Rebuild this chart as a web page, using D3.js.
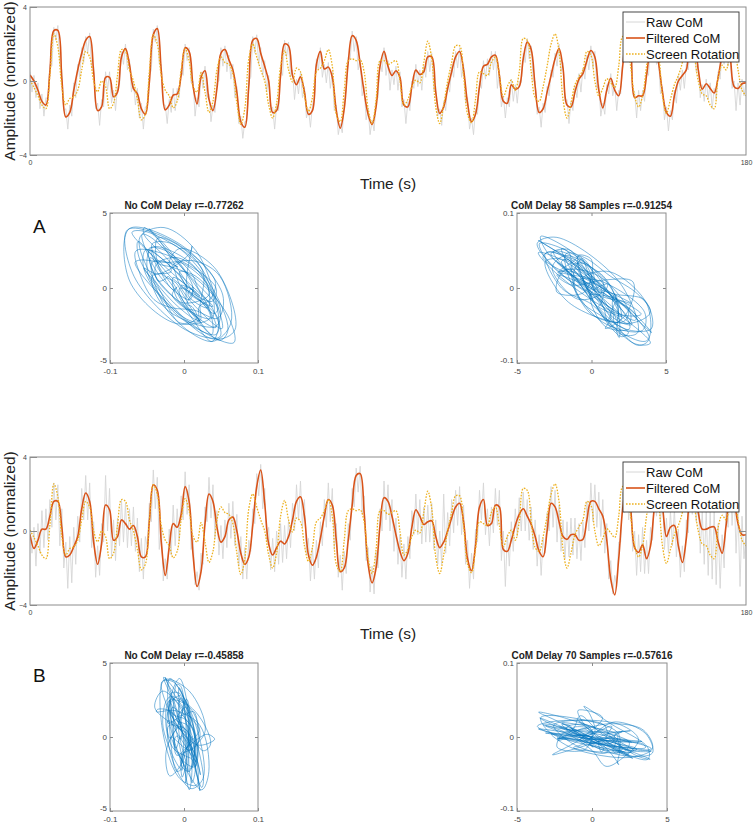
<!DOCTYPE html>
<html><head><meta charset="utf-8">
<script src="https://cdn.jsdelivr.net/npm/d3@7"></script>
<style>
body{margin:0;background:#fff}
svg{display:block;font-family:"Liberation Sans",Arial,Helvetica,sans-serif}
</style>
</head><body>
<svg id="chart" width="754" height="826"></svg>
<script>
// ---------------- DATA ----------------
const timeDomain = [0, 180];
const timeTickLabels = [0, 180];
const ampTickValues = [-4, 0, 4];
const seriesNames = ["Raw CoM", "Filtered CoM", "Screen Rotation"];
const FILTERED_STEP_S = 1;   // filtered / screen samples every 1 s
const RAW_STEP_S = 0.5;      // raw CoM samples every 0.5 s

// Screen rotation stimulus (same in both trials), normalized
const screenRotation = [
0.05,-0.35,-0.8,-1.3,-1.5,0.3,2.55,1.85,-0.3,-1.3,
-0.95,-0.85,-0.5,0.6,1.6,1.3,0.0,-0.58,0.0,-0.3,
-1.5,-1.2,0.3,1.7,1.6,0.6,0.0,-1.0,-2.1,-1.8,
0.5,2.5,2.0,0.3,-0.5,-0.8,-1.45,-1.1,0.6,1.75,
1.1,-0.3,-0.6,0.45,-0.6,-1.7,-1.1,0.6,1.3,1.0,
0.9,0.4,-1.2,-2.35,-1.5,1.2,2.0,1.3,0.6,0.0,
-1.3,-2.0,-1.2,0.8,1.65,0.6,-0.05,0.7,0.5,-0.8,
-1.65,-0.9,0.5,0.7,1.1,1.7,0.8,-1.8,-2.2,-0.5,
1.1,1.2,1.1,1.15,0.5,-1.5,-2.3,-1.0,1.1,1.1,
0.9,1.0,1.1,0.0,-1.3,-1.0,-0.3,0.05,-0.1,1.0,
2.15,1.2,-1.4,-2.3,-1.3,0.0,1.0,1.9,1.9,0.3,
-1.8,-2.25,-1.0,0.5,0.4,0.3,1.0,1.3,0.3,-0.85,
-0.3,0.05,-0.5,0.5,2.3,2.2,0.5,-0.9,-1.1,-0.3,
0.8,2.0,2.55,1.6,-1.0,-2.0,-1.2,-0.2,0.22,0.6,
1.6,1.4,0.0,-0.8,-0.4,0.12,-0.1,-0.35,0.8,2.4,
2.4,0.8,-0.8,-1.4,-0.8,0.8,2.2,2.6,1.6,-0.8,
-1.75,-1.0,-0.2,0.3,1.0,2.3,2.6,1.4,0.0,-0.7,
-0.8,-1.3,-1.5,0.2,0.85,0.6,1.5,1.8,0.6,-0.5,-0.8];

// Trial A filtered CoM, normalized
const filteredA = [
0.32,0.0,-0.5,-1.1,-1.3,0.5,2.72,2.74,0.14,-1.94,
-1.7,-0.5,0.6,1.5,2.2,2.4,0.5,-1.6,-1.4,0.2,
0.2,-0.85,-0.6,1.3,1.75,0.9,-0.4,-0.7,-1.5,-1.8,
-0.08,2.5,2.83,0.55,-1.56,-1.3,-0.76,-0.7,0.3,1.8,
1.6,-0.3,-1.24,0.2,0.55,-1.0,-1.6,-0.4,1.5,1.7,
1.15,0.6,-0.6,-2.2,-2.5,-0.3,2.2,2.3,1.5,0.8,
0.0,-1.7,-1.6,0.3,2.0,1.9,0.3,-0.2,0.23,-0.6,
-1.8,-1.6,0.9,1.6,0.65,0.75,0.2,-1.6,-2.55,-1.5,
1.0,2.45,2.2,0.9,-0.6,-1.8,-2.35,-1.4,0.8,1.6,
0.8,0.3,0.55,0.2,-1.3,-1.4,-0.3,0.59,0.35,0.5,
1.3,1.3,-0.6,-1.75,-1.4,-0.4,0.5,1.3,1.59,0.6,
-1.2,-2.2,-1.8,-0.3,0.8,0.9,1.3,1.4,0.3,-1.1,
-1.2,-0.2,-0.45,-0.3,1.2,2.1,1.7,-0.3,-1.7,-1.5,
-0.6,0.3,1.2,1.75,0.7,-1.3,-1.4,-0.6,0.1,0.4,
1.1,1.65,1.3,-0.5,-1.45,-0.5,0.15,-0.5,-0.8,0.8,
2.6,1.8,-0.9,-0.8,-0.8,0.3,1.8,2.2,1.0,-0.6,
-1.7,-1.9,-0.8,0.0,0.3,0.6,2.0,2.0,0.6,-0.45,
-0.15,-0.4,-0.65,0.2,1.4,2.0,1.3,-0.3,-0.4,-0.15,-0.1];

// Trial A raw CoM, normalized (0.5 s)
const rawA = [
0.5,-0.6,0.3,-0.9,-0.1,-1.5,-0.7,-1.9,-0.9,-1.0,0.9,0.8,2.9,2.2,3.0,0.9,0.6,-1.6,-1.5,-2.6,
-1.3,-1.9,-0.1,-0.9,0.9,0.2,1.8,1.0,2.4,1.5,2.6,0.7,0.8,-1.5,-1.2,-2.4,-1.0,-1.4,0.5,-0.5,
0.5,-1.2,-0.5,-1.6,-0.3,-0.2,1.6,0.9,2.0,0.6,1.2,-0.6,-0.1,-1.3,-0.4,-2.0,-1.2,-2.6,-1.4,-1.4,
0.3,0.6,2.8,2.1,3.0,0.9,0.9,-1.3,-1.3,-2.3,-1.0,-1.7,-0.4,-1.6,-0.4,-0.9,0.6,0.3,2.0,1.1,
1.8,-0.1,0.0,-1.9,-0.9,-1.4,0.5,-0.4,0.8,-0.9,-0.7,-2.2,-1.3,-1.7,-0.1,0.0,1.8,0.8,1.9,0.5,
1.4,0.1,0.9,-0.9,-0.3,-2.3,-1.9,-3.1,-2.2,-2.2,0.0,0.2,2.4,1.5,2.5,0.9,1.8,0.3,1.1,-0.6,
0.3,-1.7,-1.4,-2.6,-1.3,-1.6,0.6,0.3,2.2,1.3,2.1,0.2,0.6,-1.0,0.1,-0.7,0.5,-0.9,-0.3,-2.0,
-1.5,-2.5,-1.3,-0.9,1.2,0.6,1.8,0.2,0.9,-0.1,1.0,-0.4,0.5,-1.6,-1.3,-2.9,-2.3,-2.8,-1.2,-0.4,
1.3,1.2,2.7,1.6,2.4,0.6,1.2,-0.8,-0.3,-2.1,-1.5,-2.9,-2.1,-2.7,-1.1,-0.9,1.1,0.5,1.8,0.3,
1.1,-0.5,0.6,-0.2,0.8,-0.5,0.5,-1.4,-1.0,-2.3,-1.1,-1.6,0.0,-0.4,0.9,-0.3,0.6,-0.5,0.8,0.2,
1.6,0.5,1.5,-0.5,-0.3,-1.9,-1.5,-2.4,-1.1,-1.6,-0.1,-0.6,0.8,0.2,1.6,0.7,1.8,0.2,0.9,-1.2,
-0.9,-2.6,-2.0,-2.9,-1.5,-1.8,0.0,-0.4,1.1,0.1,1.2,0.3,1.6,0.6,1.6,-0.4,0.6,-1.4,-0.8,-2.0,
-0.9,-1.4,0.1,-1.1,-0.2,-1.2,0.0,-0.1,1.5,1.0,2.3,1.2,1.9,0.0,0.0,-1.8,-1.4,-2.5,-1.2,-1.7,
-0.3,-0.8,0.6,0.2,1.5,0.8,2.0,0.5,1.0,-1.1,-1.0,-2.3,-1.1,-1.6,-0.3,-0.9,0.4,-0.6,0.7,0.1,
1.4,0.6,1.9,0.7,1.6,-0.4,-0.2,-1.9,-1.2,-1.8,-0.2,-0.7,0.4,-0.8,-0.2,-1.6,-0.5,-0.7,1.1,1.2,
2.8,1.6,2.0,-0.4,-0.6,-2.0,-0.5,-1.6,-0.5,-1.1,0.6,0.3,2.0,1.2,2.4,0.9,1.3,-0.7,-0.3,-2.1,
-1.4,-2.7,-1.6,-2.1,-0.5,-1.2,0.3,-0.5,0.6,-0.4,0.9,0.6,2.2,1.4,2.2,0.5,0.9,-0.9,-0.2,-1.1,
0.1,-1.0,-0.1,-1.5,-0.4,-1.0,0.5,0.1,1.7,0.9,2.2,0.8,1.5,-0.4,0.0,-1.6,-0.1,-1.3,0.1,-0.8,-0.1];

// Trial B filtered CoM, normalized
const filteredB = [
-0.18,-0.94,-0.5,0.1,0.1,0.8,1.6,1.6,0.2,-1.4,
-1.3,-0.85,-0.3,1.2,2.05,1.6,-0.6,-1.8,-0.7,1.4,
1.15,-0.5,-0.3,0.6,0.4,0.1,0.3,-0.3,-1.4,-1.4,
0.5,2.5,2.2,-0.6,-2.4,-0.9,0.4,0.2,0.9,2.4,
1.6,-1.3,-3.0,-2.2,0.4,2.0,1.6,0.2,-0.6,-0.3,
0.6,0.75,0.0,-1.2,-1.8,-1.4,0.3,2.4,3.3,1.5,
-0.7,-1.3,-0.9,-0.55,-0.7,-0.3,0.6,1.6,1.85,0.8,
-1.3,-1.85,-1.4,-0.4,0.8,1.7,1.4,-0.5,-2.2,-2.0,
-0.5,1.4,3.0,3.1,1.0,-1.8,-2.8,-2.0,0.3,1.8,
1.6,0.8,-0.2,-1.1,-1.6,-1.2,0.2,1.15,0.8,0.35,
0.5,0.55,-0.3,-0.9,-0.6,0.0,0.7,1.3,1.5,0.5,
-1.5,-2.15,-0.8,1.3,1.7,0.3,0.4,1.4,1.3,-1.0,
-1.1,-0.5,0.3,0.9,1.2,0.8,0.35,-0.3,-1.1,-1.39,
0.0,1.5,1.3,0.5,-0.3,-0.45,-0.2,-0.2,-0.5,-0.45,
0.6,1.6,1.6,1.2,0.8,-0.5,-2.6,-3.45,-1.5,1.2,
2.5,1.2,-0.9,-1.15,-0.75,-1.5,-0.8,1.3,2.3,1.3,
-0.3,0.2,0.3,-0.8,-1.7,-0.4,1.8,2.1,1.0,0.1,
0.1,0.2,0.22,-0.6,-1.2,0.3,1.8,1.5,0.4,-0.2,-0.2];

// Trial B raw CoM, normalized (0.5 s)
const rawB = [
-0.1,-1.2,0.2,-1.9,0.4,-1.2,1.1,-0.9,1.2,-0.5,1.7,0.2,2.6,0.6,2.5,-0.8,1.2,-2.0,-0.6,-3.1,
-0.3,-2.8,0.2,-1.8,0.8,-0.6,2.3,0.6,3.0,0.6,2.6,-0.9,0.5,-2.5,-0.8,-2.4,0.4,-0.6,3.0,0.0,
2.3,-1.4,0.6,-1.6,0.7,-0.8,1.7,-0.6,1.5,-0.9,1.2,-0.8,1.3,-1.1,0.7,-2.2,-0.4,-2.6,-0.3,-0.9,
1.5,0.5,3.3,1.2,2.9,-1.0,0.3,-2.7,-1.5,-2.6,0.1,-1.3,1.4,-0.8,1.2,-0.5,1.9,0.6,3.2,0.9,
2.5,-1.0,-0.4,-2.9,-2.2,-3.2,-1.2,-1.8,1.3,0.5,2.9,0.7,2.5,-0.4,1.1,-1.3,0.3,-1.5,0.6,-0.9,
1.5,-0.4,1.6,-0.8,0.9,-1.9,-0.3,-2.6,-0.9,-2.6,-0.5,-1.1,1.2,0.4,3.1,1.9,3.6,1.2,2.3,-0.6,
0.2,-2.1,-0.4,-2.2,0.0,-1.8,0.4,-1.7,0.3,-1.5,0.6,-0.9,1.5,0.0,2.5,0.6,2.7,0.2,1.7,-1.3,
-0.4,-2.7,-0.9,-2.6,-0.5,-2.0,0.5,-0.8,1.7,0.2,2.6,0.5,2.3,-1.0,0.4,-2.5,-1.3,-3.2,-1.1,-2.3,
0.4,-0.5,2.3,1.3,3.4,2.1,3.5,0.9,1.9,-1.6,-0.9,-3.3,-1.9,-3.4,-1.1,-2.0,1.2,0.0,2.7,0.6,
2.5,0.0,1.7,-1.1,0.7,-1.8,-0.2,-2.5,-0.7,-2.6,-0.3,-1.5,1.1,-0.2,2.0,-0.2,1.7,-0.7,1.3,-0.6,
1.4,-0.6,1.5,-1.0,0.6,-1.8,0.0,-1.8,2.0,-1.2,1.0,-0.8,1.7,-0.1,2.2,0.3,2.4,-0.2,1.4,-1.8,
-0.5,-3.1,-1.2,-2.6,0.1,-0.6,2.2,0.6,2.6,-0.2,1.2,-0.8,1.3,-0.1,2.3,0.3,2.2,-1.6,0.0,-3.0,
-0.2,-1.9,0.5,-1.1,1.2,-0.3,1.8,0.0,2.1,0.0,1.7,-0.5,1.3,-1.0,0.6,-1.9,-0.2,-2.4,-0.4,-1.2,
1.0,0.0,2.4,0.2,2.2,-0.6,1.4,-1.1,0.6,-1.5,0.5,-1.4,0.7,-1.3,0.7,-1.5,0.4,-1.6,0.5,-0.9,
1.6,0.0,2.6,0.5,2.5,0.2,2.1,-0.3,1.7,-1.2,0.4,-2.6,-1.6,-3.4,-2.4,-3.0,-0.6,-0.6,2.1,1.0,
3.4,0.6,2.1,-1.1,0.0,-2.4,-0.2,-2.2,0.2,-2.3,-0.5,-2.3,0.2,-0.5,2.2,0.8,3.2,0.5,2.2,-1.0,
0.7,-1.2,1.1,-0.8,1.2,-1.4,0.1,-2.5,-0.8,-2.2,0.6,-0.1,2.8,0.9,3.0,0.5,1.9,-1.2,1.1,-1.8,
1.1,-2.4,1.2,-2.6,1.2,-2.9,0.4,-3.1,-0.2,-2.0,1.3,0.2,2.8,0.3,2.4,-1.2,1.3,-3.0,0.8,-1.5,-0.2];

// Scatter panels
const scatterTitlesA = ["No CoM Delay r=-0.77262", "CoM Delay 58 Samples r=-0.91254"];
const scatterTitlesB = ["No CoM Delay r=-0.45858", "CoM Delay 70 Samples r=-0.57616"];
const comTickValues = [-0.1, 0, 0.1];
const rotTickValues = [-5, 0, 5];
const comUnitsPerNormA = -0.027;  // CoM (m) per normalized unit, trial A (sign as plotted)
const comUnitsPerNormB = -0.012;  // trial B
const rotUnitsPerNorm = 1.55;     // screen rotation per normalized unit
const sampleOffsetNoDelay = 1;    // sample offset between CoM and screen in the "No CoM Delay" pairing

// ---------------- DRAWING ----------------
const svg = d3.select("#chart");
const COLORS = {raw: "#d6d6d6", filt: "#D95319", scr: "#EDB120", axis: "#8c8c8c", tick: "#444", blue: "#0072BD"};

function timeSeriesPanel(top, filtered, raw, id) {
  const left = 30, right = 746, bottom = top + 148;
  const x = d3.scaleLinear().domain(timeDomain).range([left, right]);
  const y = d3.scaleLinear().domain([-4, 4]).range([bottom, top]);
  const g = svg.append("g");
  g.append("clipPath").attr("id", "clip" + id).append("rect")
    .attr("x", left).attr("y", top).attr("width", right - left).attr("height", bottom - top);
  const plot = g.append("g").attr("clip-path", `url(#clip${id})`);

  plot.append("path").datum(raw)
    .attr("fill", "none").attr("stroke", COLORS.raw).attr("stroke-width", 0.9)
    .attr("d", d3.line().x((d, i) => x(i * RAW_STEP_S)).y(d => y(d)));
  plot.append("path").datum(filtered)
    .attr("fill", "none").attr("stroke", COLORS.filt).attr("stroke-width", 1.6)
    .attr("d", d3.line().curve(d3.curveCatmullRom.alpha(0.5)).x((d, i) => x(i * FILTERED_STEP_S)).y(d => y(d)));
  plot.append("path").datum(screenRotation)
    .attr("fill", "none").attr("stroke", COLORS.scr).attr("stroke-width", 1.3)
    .attr("stroke-dasharray", "1.6,1.4")
    .attr("d", d3.line().curve(d3.curveCatmullRom.alpha(0.5)).x((d, i) => x(i * FILTERED_STEP_S)).y(d => y(d)));

  g.append("rect").attr("x", left).attr("y", top).attr("width", right - left).attr("height", bottom - top)
    .attr("fill", "none").attr("stroke", COLORS.axis).attr("stroke-width", 1);

  const ya = g.append("g").attr("transform", `translate(${left},0)`)
    .call(d3.axisLeft(y).tickValues(ampTickValues).tickSize(-7).tickPadding(3).tickFormat(d3.format("d")));
  const yr = g.append("g").attr("transform", `translate(${right},0)`)
    .call(d3.axisRight(y).tickValues([0]).tickSize(-7).tickFormat(""));
  const xa = g.append("g").attr("transform", `translate(0,${bottom})`)
    .call(d3.axisBottom(x).tickValues(timeTickLabels).tickSize(0).tickPadding(5).tickFormat(d3.format("d")));
  [ya, yr, xa].forEach(a => {
    a.select(".domain").remove();
    a.selectAll("line").attr("stroke", COLORS.axis);
    a.selectAll("text").attr("fill", COLORS.tick).style("font-size", "7px")
      .style("font-family", '"Liberation Sans",Arial,sans-serif');
  });

  g.append("text").attr("x", (left + right) / 2).attr("y", bottom + 34)
    .attr("text-anchor", "middle").style("font-size", "15.5px").attr("fill", "#222").text("Time (s)");
  g.append("text").attr("transform", `translate(14.5,${(top + bottom) / 2}) rotate(-90)`)
    .attr("text-anchor", "middle").style("font-size", "15.5px").attr("fill", "#222").text("Amplitude (normalized)");

  const lx = 623, ly = top + 5, lw = 116, lh = 50;
  const lg = g.append("g");
  lg.append("rect").attr("x", lx).attr("y", ly).attr("width", lw).attr("height", lh)
    .attr("fill", "#fff").attr("stroke", "#333").attr("stroke-width", 0.9);
  const styles = [
    {c: COLORS.raw, w: 1, dash: null},
    {c: COLORS.filt, w: 1.6, dash: null},
    {c: COLORS.scr, w: 1.3, dash: "1.6,1.4"}
  ];
  seriesNames.forEach((name, i) => {
    const cy = ly + 10 + i * 16;
    lg.append("line").attr("x1", lx + 3).attr("x2", lx + 22).attr("y1", cy).attr("y2", cy)
      .attr("stroke", styles[i].c).attr("stroke-width", styles[i].w)
      .attr("stroke-dasharray", styles[i].dash);
    lg.append("text").attr("x", lx + 23).attr("y", cy).attr("dy", "0.36em")
      .style("font-size", "13px").attr("fill", "#111").text(name);
  });
}

function scatterPanel(x0, y0, w, h, xDomain, yDomain, xTicks, yTicks, points, title) {
  const x = d3.scaleLinear().domain(xDomain).range([x0, x0 + w]);
  const y = d3.scaleLinear().domain(yDomain).range([y0 + h, y0]);
  const g = svg.append("g");
  g.append("path").datum(points)
    .attr("fill", "none").attr("stroke", COLORS.blue).attr("stroke-width", 0.6).attr("stroke-opacity", 0.85)
    .attr("d", d3.line().curve(d3.curveCatmullRom.alpha(0.5)).x(d => x(d[0])).y(d => y(d[1])));
  g.append("rect").attr("x", x0).attr("y", y0).attr("width", w).attr("height", h)
    .attr("fill", "none").attr("stroke", COLORS.axis).attr("stroke-width", 1);

  const ya = g.append("g").attr("transform", `translate(${x0},0)`)
      .call(d3.axisLeft(y).tickValues(yTicks).tickSize(-3).tickPadding(3).tickFormat(d => String(d)));
  ya.selectAll(".tick text").filter(d => d === yTicks[0]).attr("dy", "-0.05em");
  const axes = [
    ya,
    g.append("g").attr("transform", `translate(${x0 + w},0)`)
      .call(d3.axisRight(y).tickValues([0]).tickSize(-3).tickFormat("")),
    g.append("g").attr("transform", `translate(0,${y0 + h})`)
      .call(d3.axisBottom(x).tickValues(xTicks).tickSize(-3).tickPadding(5).tickFormat(d => String(d))),
    g.append("g").attr("transform", `translate(0,${y0})`)
      .call(d3.axisTop(x).tickValues([0]).tickSize(-3).tickFormat(""))
  ];
  axes.forEach(a => {
    a.select(".domain").remove();
    a.selectAll("line").attr("stroke", COLORS.axis);
    a.selectAll("text").attr("fill", COLORS.tick).style("font-size", "8px")
      .style("font-family", '"Liberation Sans",Arial,sans-serif');
  });
  g.append("text").attr("x", x0 + w / 2).attr("y", y0 - 4.5).attr("text-anchor", "middle")
    .style("font-size", "10px").style("font-weight", "bold").attr("fill", "#222").text(title);
}

// CoM sample i+offset paired with screen sample i
function noDelayPairs(com, comScale) {
  return screenRotation.slice(0, screenRotation.length - sampleOffsetNoDelay)
    .map((s, i) => [com[i + sampleOffsetNoDelay] * comScale, s * rotUnitsPerNorm]);
}
function delayPairs(com, comScale) {
  return screenRotation.map((s, i) => [s * rotUnitsPerNorm, com[i] * comScale]);
}

// Panel A
timeSeriesPanel(7, filteredA, rawA, "A");
svg.append("text").attr("x", 33).attr("y", 233).style("font-size", "19px").attr("fill", "#111").text("A");
scatterPanel(110, 213, 148, 150, [-0.1, 0.1], [-5, 5], comTickValues, rotTickValues,
  noDelayPairs(filteredA, comUnitsPerNormA), scatterTitlesA[0]);
scatterPanel(517, 213, 149, 150, [-5, 5], [-0.1, 0.1], rotTickValues, comTickValues,
  delayPairs(filteredA, comUnitsPerNormA), scatterTitlesA[1]);

// Panel B
timeSeriesPanel(457, filteredB, rawB, "B");
svg.append("text").attr("x", 33).attr("y", 682).style("font-size", "19px").attr("fill", "#111").text("B");
scatterPanel(110, 663, 148, 148, [-0.1, 0.1], [-5, 5], comTickValues, rotTickValues,
  noDelayPairs(filteredB, comUnitsPerNormB), scatterTitlesB[0]);
scatterPanel(517, 663, 150, 148, [-5, 5], [-0.1, 0.1], rotTickValues, comTickValues,
  delayPairs(filteredB, comUnitsPerNormB), scatterTitlesB[1]);
</script>
</body></html>
